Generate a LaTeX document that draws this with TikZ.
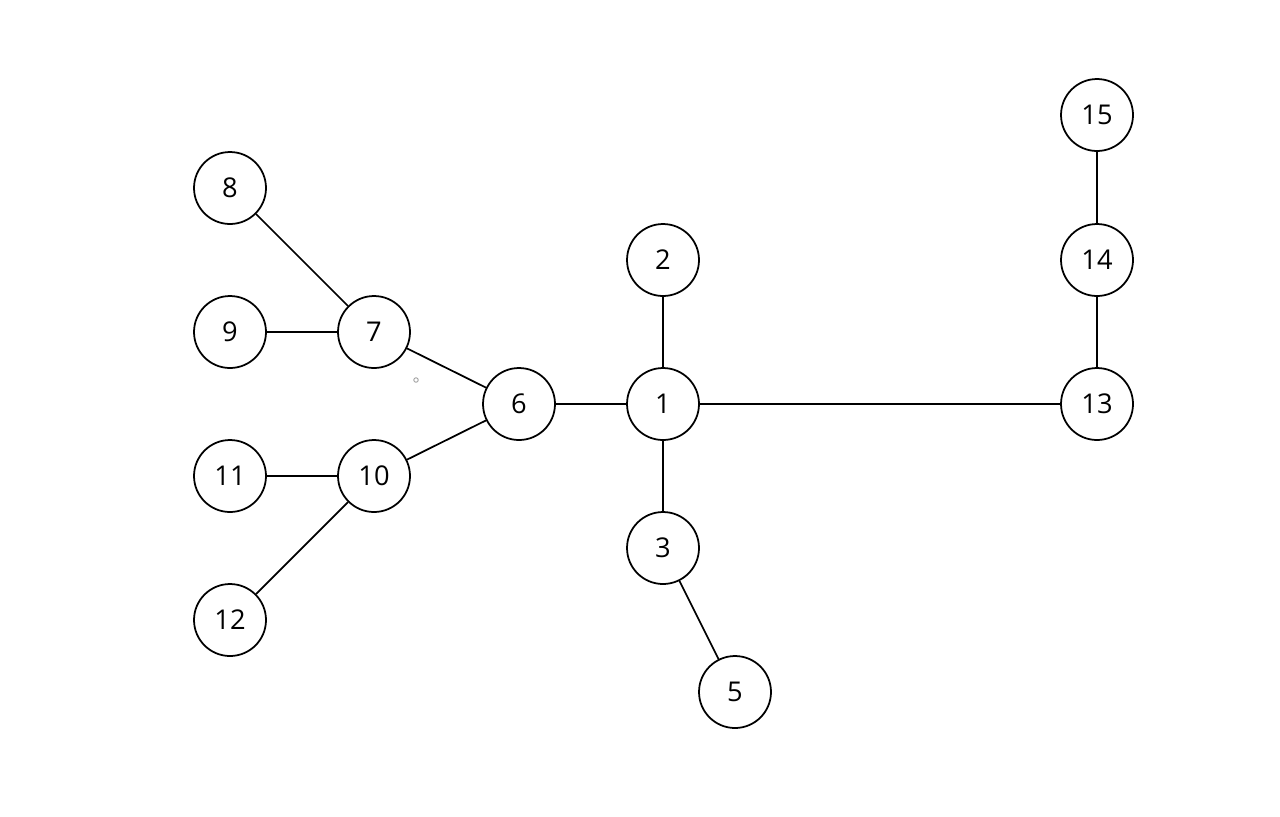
\documentclass[tikz,border=0pt]{standalone}
\usepackage{fontspec}
\setmainfont{Open Sans}
\definecolor{vertexstroke}{HTML}{000000}
\definecolor{edgestroke}{HTML}{000000}
\definecolor{dotstroke}{HTML}{A0A0A0}
\tikzset{
  vertex/.style={
    circle,
    draw=vertexstroke,
    fill=white,
    line width=1pt,
    minimum size=1.44cm,
    inner sep=0pt,
    font=\fontsize{15.5}{18}\selectfont
  },
  edge/.style={
    draw=edgestroke,
    line width=1pt
  },
  speck/.style={
    circle,
    draw=dotstroke,
    line width=0.5pt,
    minimum size=0.09cm,
    inner sep=0pt
  }
}
\begin{document}
\begin{tikzpicture}[x=0.02cm,y=-0.02cm]
  \useasboundingbox[fill=white] (0,0) rectangle (1280,816);

  \node[vertex] (v1) at (663,404) {1};
  \node[vertex] (v2) at (663,260) {2};
  \node[vertex] (v3) at (663,548) {3};
  \node[vertex] (v5) at (735,692) {5};
  \node[vertex] (v6) at (519,404) {6};
  \node[vertex] (v7) at (374,332) {7};
  \node[vertex] (v8) at (230,188) {8};
  \node[vertex] (v9) at (230,332) {9};
  \node[vertex] (v10) at (374,476) {10};
  \node[vertex] (v11) at (230,476) {11};
  \node[vertex] (v12) at (230,620) {12};
  \node[vertex] (v13) at (1097,404) {13};
  \node[vertex] (v14) at (1097,260) {14};
  \node[vertex] (v15) at (1097,115) {15};

  \node[speck] (mark) at (416,380) {};

  % Centre hub.
  \draw[edge] (v1) -- (v2);
  \draw[edge] (v1) -- (v3);
  \draw[edge] (v3) -- (v5);
  \draw[edge] (v1) -- (v6);
  \draw[edge] (v1) -- (v13);

  % Left branches.
  \draw[edge] (v6) -- (v7);
  \draw[edge] (v6) -- (v10);
  \draw[edge] (v7) -- (v8);
  \draw[edge] (v7) -- (v9);
  \draw[edge] (v10) -- (v11);
  \draw[edge] (v10) -- (v12);

  % Right chain.
  \draw[edge] (v13) -- (v14);
  \draw[edge] (v14) -- (v15);
\end{tikzpicture}
\end{document}
